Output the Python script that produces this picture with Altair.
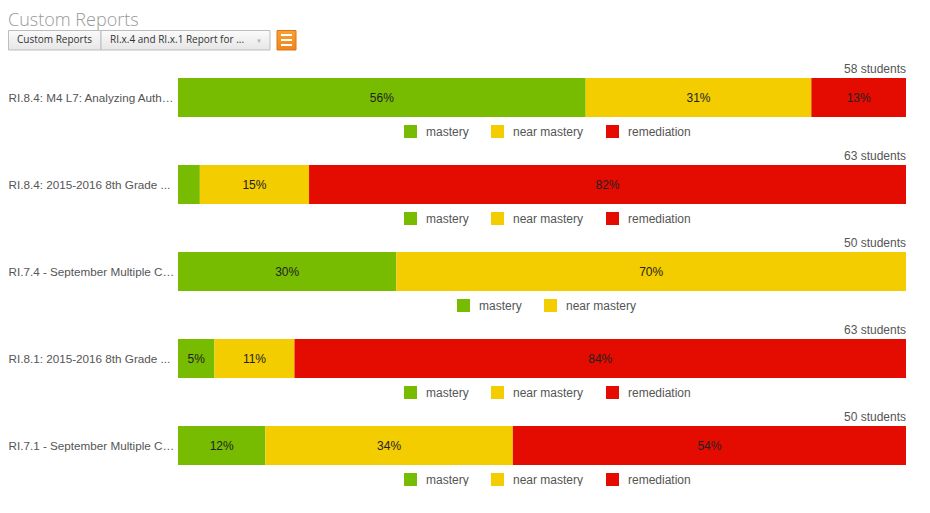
import altair as alt
import pandas as pd

labels = [
    "RI.8.4: M4 L7: Analyzing Auth\u2026",
    "RI.8.4: 2015-2016 8th Grade ...",
    "RI.7.4 - September Multiple C\u2026",
    "RI.8.1: 2015-2016 8th Grade ...",
    "RI.7.1 - September Multiple C\u2026",
]
students = [58, 63, 50, 63, 50]
mastery = [56, 3, 30, 5, 12]
near_mastery = [31, 15, 70, 11, 34]
remediation = [13, 82, 0, 84, 54]

categories = ["mastery", "near mastery", "remediation"]
colors = ["#77bc00", "#f3cd00", "#e40b00"]

FONT = "Liberation Sans"
GREY = "#555555"


def row_chart(i):
    vals = [mastery[i], near_mastery[i], remediation[i]]
    recs = []
    for k, (c, v) in enumerate(zip(categories, vals)):
        if v > 0:
            recs.append({"label": labels[i], "category": c, "value": v, "order": k,
                         "text": f"{v}%" if v >= 5 else ""})
    df = pd.DataFrame(recs)
    dom = [r["category"] for r in recs]
    rng = [colors[categories.index(c)] for c in dom]
    legend_x = 226 if len(dom) == 3 else 279

    base = alt.Chart(df).transform_stack(
        stack="value", groupby=["label"], as_=["x0", "x1"],
        sort=[alt.SortField("order")]
    ).transform_calculate(mid="(datum.x0 + datum.x1) / 2")

    xscale = alt.Scale(domain=[0, 100], nice=False, zero=True)
    yenc = alt.Y("label:N", title=None,
                 scale=alt.Scale(paddingInner=0, paddingOuter=0),
                 axis=alt.Axis(labelAlign="left", labelPadding=170, ticks=False,
                               domain=False, labelFont=FONT, labelFontSize=11.7,
                               labelColor=GREY, labelLimit=0, title=None))

    bars = base.mark_bar().encode(
        x=alt.X("x0:Q", scale=xscale, axis=None),
        x2="x1:Q",
        y=yenc,
        color=alt.Color("category:N",
                        scale=alt.Scale(domain=dom, range=rng),
                        legend=alt.Legend(orient="none", legendX=legend_x, legendY=47,
                                          direction="horizontal", title=None,
                                          symbolType="square", symbolSize=169,
                                          symbolStrokeWidth=0, labelOffset=9,
                                          columnPadding=22, padding=0,
                                          labelFont=FONT, labelFontSize=12,
                                          labelColor=GREY)),
    )
    texts = base.mark_text(font=FONT, fontSize=12, color="#222222",
                           align="center", baseline="middle").encode(
        x=alt.X("mid:Q", scale=xscale, axis=None),
        y=alt.Y("label:N", title=None),
        text="text:N",
    )
    return alt.layer(bars, texts).properties(
        width=728, height=39,
        title=alt.TitleParams(f"{students[i]} students", anchor="end", frame="group",
                              fontSize=12, font=FONT, fontWeight="normal",
                              color=GREY, offset=2),
    )


one = pd.DataFrame({"a": [0]})
btn_grad = alt.LinearGradient(gradient="linear", x1=0, x2=0, y1=0, y2=1,
                              stops=[alt.GradientStop(offset=0, color="#fbfbfb"),
                                     alt.GradientStop(offset=1, color="#e6e6e6")])
orange_grad = alt.LinearGradient(gradient="linear", x1=0, x2=0, y1=0, y2=1,
                                 stops=[alt.GradientStop(offset=0, color="#f9a033"),
                                        alt.GradientStop(offset=1, color="#f0861a")])

btn1 = alt.Chart(one).mark_rect(fill=btn_grad, stroke="#bdbdbd", strokeWidth=1).encode(
    x=alt.value(-169.5), x2=alt.value(-77), y=alt.value(0.5), y2=alt.value(20))
btn2 = alt.Chart(one).mark_rect(fill=btn_grad, stroke="#bdbdbd", strokeWidth=1).encode(
    x=alt.value(-77), x2=alt.value(92), y=alt.value(0.5), y2=alt.value(20))
btn3 = alt.Chart(one).mark_rect(fill=orange_grad, stroke="#d9761a", strokeWidth=1).encode(
    x=alt.value(99), x2=alt.value(118), y=alt.value(0.5), y2=alt.value(20))
t1 = alt.Chart(one).mark_text(text="Custom Reports", font="Open Sans", fontSize=10,
                              color="#333333", align="center", baseline="middle").encode(
    x=alt.value(-123.5), y=alt.value(10))
t2 = alt.Chart(one).mark_text(text="RI.x.4 and RI.x.1 Report for ...", font="Open Sans",
                              fontSize=10, color="#333333", align="left",
                              baseline="middle").encode(
    x=alt.value(-68), y=alt.value(10))
t3 = alt.Chart(one).mark_text(text="\u25bc", fontSize=6, color="#b0b0b0",
                              align="center", baseline="middle").encode(
    x=alt.value(81), y=alt.value(11))
lines = [alt.Chart(one).mark_rule(color="white", strokeWidth=2).encode(
    x=alt.value(103), x2=alt.value(114), y=alt.value(yy)) for yy in (5, 10, 15)]

header = alt.layer(btn1, btn2, btn3, t1, t2, t3, *lines).properties(width=728, height=20)

chart = alt.vconcat(header, *[row_chart(i) for i in range(5)], spacing=12).resolve_scale(
    color="independent", x="independent", y="independent"
).properties(
    padding={"top": 4, "left": 0, "right": 0, "bottom": 0},
    title=alt.TitleParams("Custom Reports", anchor="start", fontSize=18,
                          font="Open Sans", fontWeight=300, color="#999999", offset=0),
).configure(background="white").configure_view(stroke=None)

chart.save("out.html", embed_options={"renderer": "svg", "actions": False})
